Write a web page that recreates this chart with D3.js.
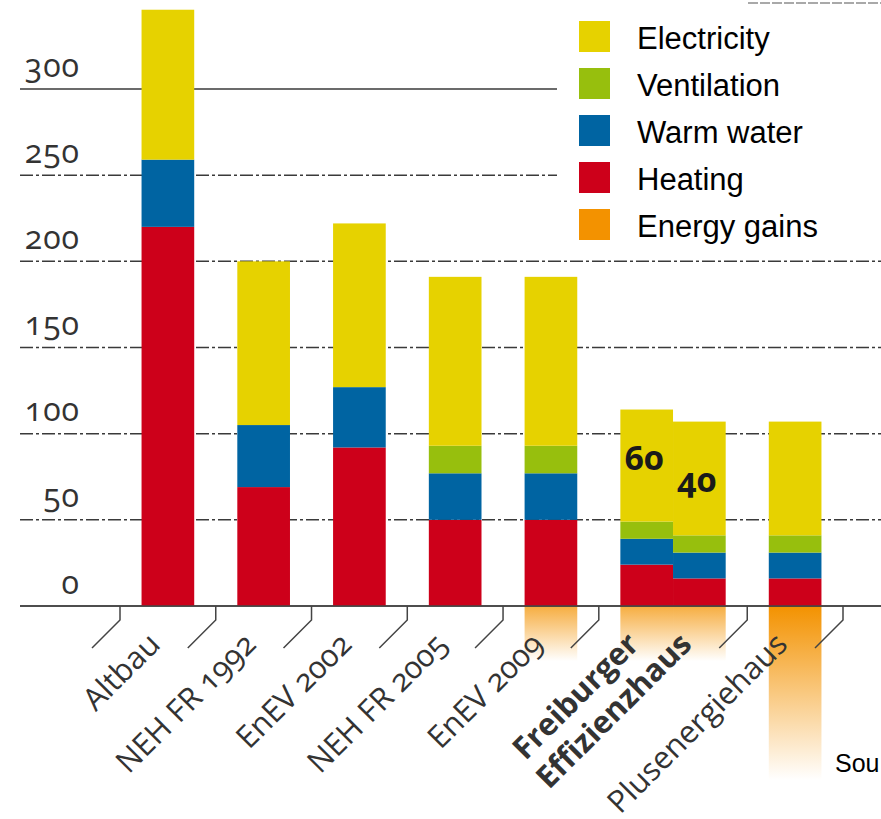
<!DOCTYPE html>
<html>
<head>
<meta charset="utf-8">
<script src="https://cdn.jsdelivr.net/npm/d3@7"></script>
<style>
  body { margin: 0; background: #fff; }
  svg { display: block; font-family: 'Open Sans', sans-serif; }
  .num { font-variant-numeric: oldstyle-nums; font-feature-settings: "onum" 1; }
</style>
</head>
<body>
<div class="chart"></div>
<script>
// --- data ---
const groups = ['Altbau', 'NEH FR 1992', 'EnEV 2002', 'NEH FR 2005', 'EnEV 2009', 'Freiburger Effizienzhaus', 'Plusenergiehaus'];
const barGroup = [0, 1, 2, 3, 4, 5, 5, 6];
const heating     = [220, 69, 92, 50, 50, 24, 16, 16];
const warmWater   = [39, 36, 35, 27, 27, 15, 15, 15];
const ventilation = [0, 0, 0, 16, 16, 10, 10, 10];
const electricity = [87, 95, 95, 98, 98, 65, 66, 66];
const energyGains = [0, 0, 0, 0, 32, 32, 32, 101];
const barLabels   = ['', '', '', '', '', '60', '40', ''];
const barLabelAt  = [0, 0, 0, 0, 0, 79, 66, 0];
const yTicks = [0, 50, 100, 150, 200, 250, 300];
const legendNames = ['Electricity', 'Ventilation', 'Warm water', 'Heating', 'Energy gains'];

const colors = {
    'Electricity': '#e6d200',
    'Ventilation': '#97bf0d',
    'Warm water': '#0064a2',
    'Heating': '#cd001a',
    'Energy gains': '#f39200'
};

const width = 881, height = 819;
const barFrac = 0.55; // bar width in group units

const svg = d3.select('.chart').append('svg')
    .attr('width', width)
    .attr('height', height);

// group widths: one unit per group plus extra for each additional bar
const groupUnits = groups.map((g, i) => {
    const n = barGroup.filter(b => b === i).length;
    return 1 + (n - 1) * barFrac;
});
const groupStart = [0];
groupUnits.forEach((u, i) => groupStart.push(groupStart[i] + u));

const x = d3.scaleLinear().domain([0, groupStart[groupStart.length - 1]]).range([120, 843]);
const y = d3.scaleLinear().domain([0, 300]).range([606, 89]);

// bar positions (left edge in units)
const bars = barGroup.map((g, i) => {
    const n = barGroup.filter(b => b === g).length;
    const k = barGroup.slice(0, i).filter(b => b === g).length;
    const left = groupStart[g] + (groupUnits[g] - n * barFrac) / 2 + k * barFrac;
    return {
        i, group: g, left,
        'Heating': heating[i],
        'Warm water': warmWater[i],
        'Ventilation': ventilation[i],
        'Electricity': electricity[i],
        gains: energyGains[i]
    };
});
const bw = x(barFrac) - x(0);

// --- energy gains (gradient below the baseline) ---
const defs = svg.append('defs');
bars.filter(d => d.gains > 0).forEach(d => {
    const grad = defs.append('linearGradient')
        .attr('id', 'gain' + d.i)
        .attr('x1', 0).attr('y1', 0).attr('x2', 0).attr('y2', 1);
    grad.append('stop').attr('offset', '0%')
        .attr('stop-color', colors['Energy gains'])
        .attr('stop-opacity', d.gains > 50 ? 1 : 0.75);
    grad.append('stop').attr('offset', '100%')
        .attr('stop-color', colors['Energy gains'])
        .attr('stop-opacity', 0);
});
svg.append('g').selectAll('rect')
    .data(bars.filter(d => d.gains > 0))
    .join('rect')
    .attr('x', d => x(d.left))
    .attr('y', y(0))
    .attr('width', bw)
    .attr('height', d => y(-d.gains) - y(0))
    .attr('fill', d => `url(#gain${d.i})`);

// --- grid lines ---
svg.append('g').selectAll('line')
    .data(yTicks)
    .join('line')
    .attr('x1', 20)
    .attr('x2', d => d >= 250 ? 557 : width)
    .attr('y1', d => y(d))
    .attr('y2', d => y(d))
    .attr('stroke', '#3a3a3a')
    .attr('stroke-width', 1.5)
    .attr('stroke-dasharray', d => (d === 300 || d === 0) ? null : '13,3,3,3');

// --- stacked bars ---
const keys = ['Heating', 'Warm water', 'Ventilation', 'Electricity'];
const stacked = d3.stack().keys(keys)(bars);

svg.append('g').selectAll('g')
    .data(stacked)
    .join('g')
    .attr('fill', s => colors[s.key])
    .selectAll('rect')
    .data(s => s.filter(d => d[1] > d[0]))
    .join('rect')
    .attr('x', d => x(d.data.left))
    .attr('y', d => y(d[1]))
    .attr('width', bw)
    .attr('height', d => y(d[0]) - y(d[1]));

// baseline drawn on top of bars
svg.append('line')
    .attr('x1', 20).attr('x2', width)
    .attr('y1', y(0)).attr('y2', y(0))
    .attr('stroke', '#444')
    .attr('stroke-width', 1.5);

// labels inside the Freiburger bars
svg.append('g').selectAll('text')
    .data(bars.filter(d => barLabels[d.i]))
    .join('text')
    .attr('class', 'num')
    .attr('x', d => x(d.left) + 4)
    .attr('y', d => y(barLabelAt[d.i]))
    .attr('font-size', 34)
    .attr('font-weight', 700)
    .attr('fill', '#1a1a1a')
    .text(d => barLabels[d.i]);

// --- y axis labels ---
const yAxis = svg.append('g')
    .attr('transform', 'translate(80,0)')
    .call(d3.axisLeft(y).tickValues(yTicks).tickSize(0).tickPadding(0));
yAxis.select('.domain').remove();
yAxis.attr('font-family', null).attr('font-size', null);
yAxis.selectAll('text')
    .attr('class', 'num')
    .attr('x', 0)
    .attr('dy', -13)
    .attr('font-size', 32)
    .attr('font-weight', 400)
    .attr('letter-spacing', 1)
    .attr('fill', '#333');

// --- x axis separators ---
svg.append('g').selectAll('path')
    .data(groupStart)
    .join('path')
    .attr('d', d => `M${x(d)},${y(0)}V${y(0) + 14}L${x(d) - 28},${y(0) + 42}`)
    .attr('fill', 'none')
    .attr('stroke', '#444')
    .attr('stroke-width', 1.5);

// --- x labels (rotated) ---
const labelLines = [];
groups.forEach((g, gi) => {
    const gb = bars.filter(b => b.group === gi);
    const lines = gi === 5 ? ['Freiburger', 'Effizienzhaus'] : [g];
    lines.forEach((t, li) => {
        const b = gb[Math.min(li, gb.length - 1)];
        labelLines.push({ text: t, cx: x(b.left) + bw / 2, bold: gi === 5 });
    });
});
svg.append('g').selectAll('text')
    .data(labelLines)
    .join('text')
    .attr('class', 'num')
    .attr('transform', d => `translate(${d.cx - 6},646) rotate(-45)`)
    .attr('text-anchor', 'end')
    .attr('font-size', 31)
    .attr('font-weight', d => d.bold ? 700 : 400)
    .attr('fill', '#333')
    .text(d => d.text);

// --- legend ---
const legend = svg.append('g')
    .attr('font-family', "'Liberation Sans', Arial, sans-serif");
const li = legend.selectAll('g')
    .data(legendNames)
    .join('g')
    .attr('transform', (d, i) => `translate(579,${21 + i * 47})`);
li.append('rect')
    .attr('width', 31).attr('height', 31)
    .attr('fill', d => colors[d]);
li.append('text')
    .attr('x', 58).attr('y', 28)
    .attr('font-size', 31)
    .attr('fill', '#000')
    .text(d => d);

// cropped decorations on the edges
svg.append('line')
    .attr('x1', 748).attr('x2', width)
    .attr('y1', 3).attr('y2', 3)
    .attr('stroke', '#555')
    .attr('stroke-width', 1.2)
    .attr('stroke-dasharray', '10,2');

svg.append('text')
    .attr('x', 835).attr('y', 772)
    .attr('font-family', "'Liberation Sans', Arial, sans-serif")
    .attr('font-size', 25)
    .attr('fill', '#000')
    .text('Sou');
</script>
</body>
</html>
